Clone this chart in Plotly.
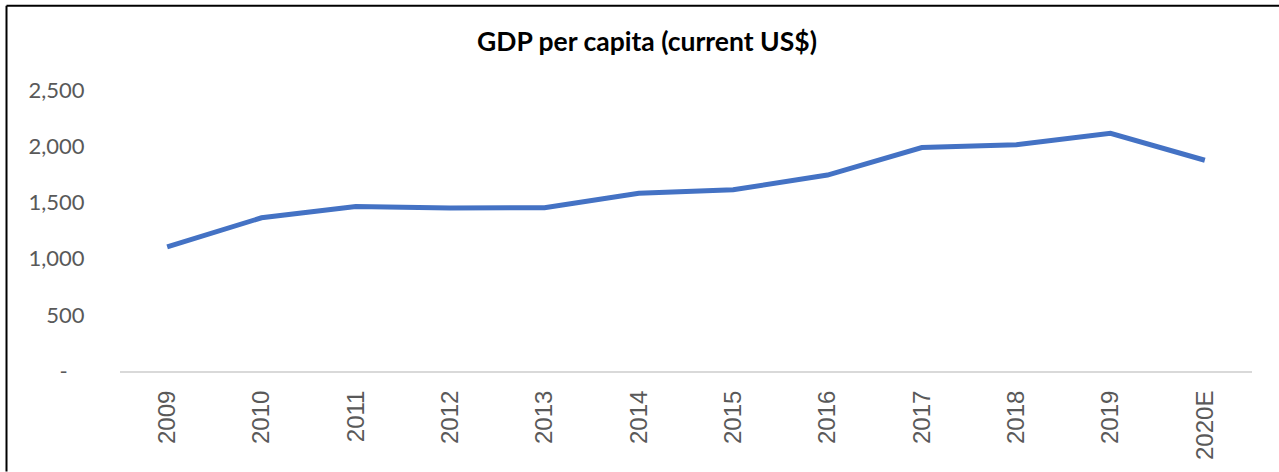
import plotly.graph_objects as go

years = ["2009", "2010", "2011", "2012", "2013", "2014", "2015", "2016",
         "2017", "2018", "2019", "2020E"]
gdp_per_capita = [1104, 1363, 1463, 1451, 1453, 1581, 1613, 1743,
                  1988, 2014, 2114, 1875]

y_tickvals = [0, 500, 1000, 1500, 2000, 2500]
y_ticktext = ["-\u00a0\u00a0\u00a0", "500", "1,000", "1,500", "2,000", "2,500"]

W, H = 1279, 472
ML, MR, MT, MB = 120, 27, 90, 97
PW, PH = W - ML - MR, H - MT - MB


def px_to_paper(x, y):
    return (x - ML) / PW, (H - MB - y) / PH


fig = go.Figure()
fig.add_trace(go.Scatter(
    x=years, y=gdp_per_capita, mode="lines",
    line=dict(color="#4472C4", width=5),
    hoverinfo="x+y",
))

# outer frame (left and top edges)
x0, y0 = px_to_paper(6.5, 4.5)
x1, y1 = px_to_paper(W + 5, H + 5)
fig.add_shape(type="line", xref="paper", yref="paper", x0=x0, y0=y0, x1=x0, y1=y1,
              line=dict(color="#000000", width=2))
fig.add_shape(type="line", xref="paper", yref="paper", x0=x0, y0=y0, x1=x1, y1=y0,
              line=dict(color="#000000", width=2))

fig.update_layout(
    width=W, height=H,
    margin=dict(l=ML, r=MR, t=MT, b=MB),
    paper_bgcolor="white", plot_bgcolor="white",
    showlegend=False,
    title=dict(text="GDP per capita (current US$)", x=647 / W, xanchor="center",
               xref="container", y=1 - 42 / H, yanchor="middle",
               font=dict(family="Lato", size=26.5, weight="bold", color="#000000")),
    xaxis=dict(
        type="category", range=[-0.5, len(years) - 0.5],
        showgrid=False, zeroline=False,
        showline=True, linecolor="#D9D9D9", linewidth=2,
        tickangle=-90, ticks="outside", ticklen=8, tickcolor="rgba(0,0,0,0)",
        tickfont=dict(family="Liberation Sans", size=24, color="#595959"),
    ),
    yaxis=dict(
        range=[0, 2500], tickvals=y_tickvals, ticktext=y_ticktext,
        showgrid=False, zeroline=False, showline=False,
        ticks="outside", ticklen=30, tickcolor="rgba(0,0,0,0)",
        tickfont=dict(family="Lato", size=22, color="#595959"),
    ),
)

fig.write_html("out.html")
